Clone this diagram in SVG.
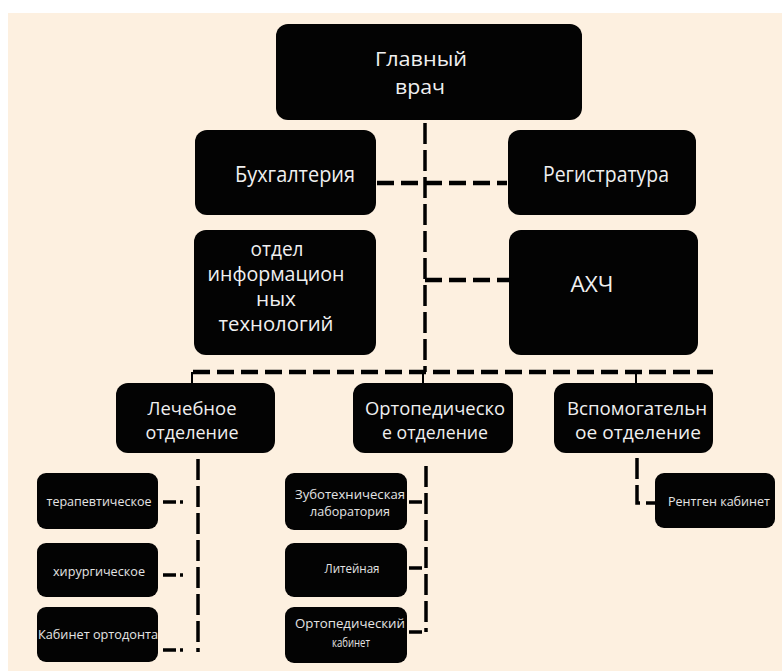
<svg xmlns="http://www.w3.org/2000/svg" width="782" height="671" viewBox="0 0 782 671">
<style>
.bg{fill:#fdf0e0}
.box{fill:#030303}
.t{fill:#f0f0f0;font-family:"Open Sans","Noto Sans","DejaVu Sans",sans-serif;font-size:21px;text-anchor:middle}
.m{fill:#f0f0f0;font-family:"Open Sans","Noto Sans","DejaVu Sans",sans-serif;font-size:20px;text-anchor:middle}
.n{fill:#f0f0f0;font-family:"Open Sans","Noto Sans","DejaVu Sans",sans-serif;font-size:19px;text-anchor:middle}
.s{fill:#e4e4e4;font-family:"Open Sans","Noto Sans","DejaVu Sans",sans-serif;font-size:12.5px;text-anchor:middle}
.d{fill:none;stroke:#000;stroke-width:4.5;stroke-dasharray:17 7}
.v{fill:none;stroke:#000;stroke-width:3.5;stroke-dasharray:21 6}
.tk{fill:none;stroke:#000;stroke-width:2}
.c{fill:none;stroke:#000;stroke-width:3.5;stroke-dasharray:13 4 3 30}
</style>
<rect x="0" y="0" width="782" height="671" fill="#ffffff"/>
<rect class="bg" x="8" y="13" width="774" height="658"/>
<g id="connectors">
<line class="v" x1="425" y1="123" x2="425" y2="372"/>
<line class="d" x1="377" y1="183" x2="507" y2="183"/>
<line class="d" x1="425" y1="280" x2="509" y2="280"/>
<line class="d" x1="193" y1="372" x2="713" y2="372"/>
<line class="tk" x1="192" y1="372" x2="192" y2="384"/>
<line class="tk" x1="423" y1="372" x2="423" y2="384"/>
<line class="tk" x1="636" y1="372" x2="636" y2="384"/>
<line class="v" x1="198" y1="459" x2="198" y2="652"/>
<line class="c" x1="163" y1="502" x2="198" y2="502"/>
<line class="c" x1="163" y1="575" x2="198" y2="575"/>
<line class="c" x1="163" y1="650" x2="198" y2="650"/>
<line class="v" x1="426" y1="466" x2="426" y2="632"/>
<line class="c" x1="409" y1="502" x2="426" y2="502"/>
<line class="c" x1="409" y1="568" x2="426" y2="568"/>
<line class="c" x1="409" y1="632" x2="426" y2="632"/>
<polyline class="v" points="637,458 637,503 655,503"/>
</g>
<g id="glavvrach"><rect class="box" x="276" y="24" width="306" height="96" rx="12"/>
<text class="m" x="421" y="66" textLength="92" lengthAdjust="spacingAndGlyphs">Главный</text>
<text class="m" x="420" y="94" textLength="50" lengthAdjust="spacingAndGlyphs">врач</text></g>
<g id="buh"><rect class="box" x="195" y="130" width="181" height="85" rx="12"/>
<text class="t" x="295" y="182" textLength="120" lengthAdjust="spacingAndGlyphs">Бухгалтерия</text></g>
<g id="reg"><rect class="box" x="508" y="130" width="188" height="85" rx="12"/>
<text class="t" x="606" y="182" textLength="126" lengthAdjust="spacingAndGlyphs">Регистратура</text></g>
<g id="oit"><rect class="box" x="194" y="230" width="182" height="125" rx="12"/>
<text class="m" x="277" y="256" textLength="53" lengthAdjust="spacingAndGlyphs">отдел</text>
<text class="m" x="276" y="281" textLength="137" lengthAdjust="spacingAndGlyphs">информацион</text>
<text class="m" x="276" y="306" textLength="40" lengthAdjust="spacingAndGlyphs">ных</text>
<text class="m" x="276" y="331" textLength="115" lengthAdjust="spacingAndGlyphs">технологий</text></g>
<g id="ahch"><rect class="box" x="509" y="230" width="189" height="125" rx="12"/>
<text class="t" x="592" y="292" textLength="43" lengthAdjust="spacingAndGlyphs">АХЧ</text></g>
<g id="lech"><rect class="box" x="116" y="383" width="159" height="70" rx="12"/>
<text class="n" x="192" y="415" textLength="89" lengthAdjust="spacingAndGlyphs">Лечебное</text>
<text class="n" x="192" y="439" textLength="93" lengthAdjust="spacingAndGlyphs">отделение</text></g>
<g id="orto"><rect class="box" x="353" y="383" width="160" height="70" rx="12"/>
<text class="n" x="435" y="415" textLength="140" lengthAdjust="spacingAndGlyphs">Ортопедическо</text>
<text class="n" x="435" y="439" textLength="106" lengthAdjust="spacingAndGlyphs">е отделение</text></g>
<g id="vspom"><rect class="box" x="554" y="383" width="159" height="70" rx="12"/>
<text class="n" x="637" y="415" textLength="140" lengthAdjust="spacingAndGlyphs">Вспомогательн</text>
<text class="n" x="638" y="439" textLength="126" lengthAdjust="spacingAndGlyphs">ое отделение</text></g>
<g id="terap"><rect class="box" x="37" y="473" width="121" height="56" rx="9"/>
<text class="s" x="99" y="506" textLength="105" lengthAdjust="spacingAndGlyphs">терапевтическое</text></g>
<g id="hirurg"><rect class="box" x="37" y="543" width="121" height="54" rx="9"/>
<text class="s" x="99" y="576" textLength="92" lengthAdjust="spacingAndGlyphs">хирургическое</text></g>
<g id="ortodont"><rect class="box" x="37" y="607" width="121" height="55" rx="9"/>
<text class="s" x="98" y="639" textLength="120" lengthAdjust="spacingAndGlyphs">Кабинет ортодонта</text></g>
<g id="zubotech"><rect class="box" x="285" y="473" width="122" height="57" rx="9"/>
<text class="s" x="350" y="499" textLength="110" lengthAdjust="spacingAndGlyphs">Зуботехническая</text>
<text class="s" x="350" y="516" textLength="80" lengthAdjust="spacingAndGlyphs">лаборатория</text></g>
<g id="liteinaya"><rect class="box" x="285" y="543" width="122" height="54" rx="9"/>
<text class="s" x="352" y="573" textLength="55" lengthAdjust="spacingAndGlyphs">Литейная</text></g>
<g id="ortokab"><rect class="box" x="285" y="607" width="122" height="56" rx="9"/>
<text class="s" x="350" y="628" textLength="110" lengthAdjust="spacingAndGlyphs">Ортопедический</text>
<text class="s" x="351" y="647" textLength="38" lengthAdjust="spacingAndGlyphs">кабинет</text></g>
<g id="rentgen"><rect class="box" x="655" y="473" width="120" height="55" rx="9"/>
<text class="s" x="719" y="506" textLength="102" lengthAdjust="spacingAndGlyphs">Рентген кабинет</text></g>
</svg>
